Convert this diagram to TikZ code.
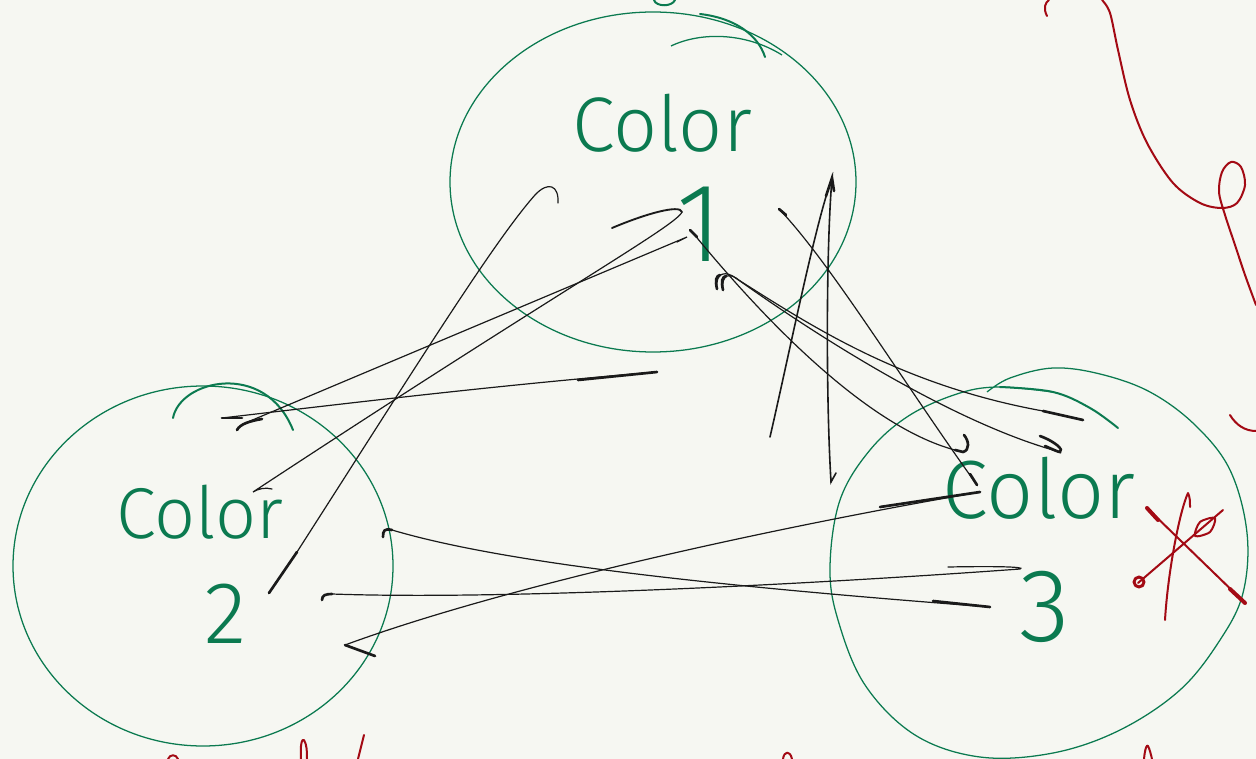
\documentclass[tikz,border=0pt]{standalone}
\usepackage{fontspec}
\newfontfamily\hand{Fira Sans Light}
\definecolor{bgc}{HTML}{F6F7F2}
\definecolor{grn}{HTML}{0B7A50}
\definecolor{redc}{HTML}{A30A14}
\definecolor{ink}{HTML}{1A1A1A}
\tikzset{
 ring/.style={draw=grn, line width=0.95pt},
 garc/.style={draw=grn, line width=1.5pt, line cap=round},
 conn/.style={draw=ink, line width=0.9pt, line cap=round},
 heavy/.style={draw=ink, line width=2pt, line cap=round},
 scrib/.style={draw=redc, line width=1.5pt, line cap=round, line join=round},
 lbl/.style={text=grn, inner sep=0pt, anchor=base},
}
\begin{document}
\begin{tikzpicture}[x=0.75pt,y=-0.75pt]
\fill[bgc] (0,0) rectangle (1256,759);
\useasboundingbox (0,0) rectangle (1256,759);

% ---- green circles ----
\draw[ring] (653,182) ellipse [x radius=203, y radius=170];
\draw[ring] (671,46) .. controls (700,32) and (745,32) .. (782,55);
\draw[garc] (700,14) .. controls (735,18) and (758,35) .. (765,57);
\draw[garc] (654,0) .. controls (656,7) and (672,7) .. (675,0);

\draw[ring] (203,566) ellipse [x radius=190, y radius=180];
\draw[garc] (173,418) .. controls (180,380) and (265,360) .. (293,430);

\draw[ring] plot[smooth, tension=0.6] coordinates {(987,392) (1010,378) (1053,368) (1100,374) (1150,392) (1195,425) (1230,470) (1247,533) (1243,593) (1220,640) (1180,690) (1120,730) (1053,753) (980,757) (915,735) (865,685) (838,620) (830,567) (840,500) (870,450) (910,415) (960,393) (1000,387) (1053,392)};
\draw[garc] plot[smooth, tension=0.6] coordinates {(1000,387) (1053,392) (1090,408) (1118,428)};

% ---- labels ----
\node[lbl, font=\hand\fontsize{58}{58}\selectfont] (t1) at (662,152) {Color};
\node[lbl, font=\hand\fontsize{84}{84}\selectfont] (n1) at (700,262) {1};
\node[lbl, font=\hand\fontsize{54}{54}\selectfont] (t2) at (200,538) {Color};
\node[lbl, font=\hand\fontsize{66}{66}\selectfont] (n2) at (226,643) {2};
\node[lbl, font=\hand\fontsize{62}{62}\selectfont] (t3) at (1039,518) {Color};
\node[lbl, font=\hand\fontsize{78}{78}\selectfont] (n3) at (1045,641) {3};

% ---- connector end points ----
\coordinate (k1a) at (558,203); \coordinate (k1b) at (297,552); \coordinate (k1c) at (269,593);
\coordinate (k2a) at (612,228); \coordinate (k2b) at (682,212); \coordinate (k2c) at (253,492); \coordinate (k2d) at (272,489);
\coordinate (k3t) at (677,242); \coordinate (k3a) at (687,237); \coordinate (k3b) at (243,424); \coordinate (k3c) at (237,430);
\coordinate (k4a) at (657,372); \coordinate (k4b) at (222,418);
\coordinate (k5a) at (770,437); \coordinate (k5t) at (832,178); \coordinate (k5b) at (831,482); \coordinate (k5c) at (836,473);
\coordinate (k6a) at (779,209); \coordinate (k6b) at (977,485);
\coordinate (c1a) at (717,289); \coordinate (c1b) at (1083,420);
\coordinate (c2a) at (723,290); \coordinate (c2t) at (1060,452); \coordinate (c2e) at (1040,436);
\coordinate (c3a) at (693,233); \coordinate (c3b) at (963,452); \coordinate (c3c) at (964,435);
\coordinate (l1a) at (383,537); \coordinate (l1b) at (392,530); \coordinate (l1c) at (990,607);
\coordinate (l2a) at (322,600); \coordinate (l2b) at (332,594); \coordinate (l2t) at (1020,569); \coordinate (l2e) at (948,567);
\coordinate (l3a) at (375,656); \coordinate (l3b) at (345,645); \coordinate (l3c) at (980,492);

% ---- black connectors ----
\draw[conn] (k1a) .. controls (559,185) and (548,181) .. (535,195) .. controls (495,240) and (420,360) .. (k1b);
\draw[heavy] (k1b) -- (k1c);

\draw[conn, line width=1.4pt] (k2a) .. controls (645,214) and (680,204) .. (k2b);
\draw[conn] (k2b) .. controls (676,226) and (560,290) .. (k2c) .. controls (258,489) and (265,487) .. (k2d);

\draw[conn] (k3t) -- (k3a) -- (k3b);
\draw[heavy] (k3c) .. controls (240,424) and (250,421) .. (262,419);

\draw[conn] (k4a) .. controls (500,385) and (350,403) .. (k4b);
\draw[heavy] (k4a) -- (578,380);
\draw[heavy] (k4b) -- (242,418);

\draw[conn, line width=1.2pt] (k5a) .. controls (790,350) and (815,225) .. (k5t) .. controls (826,250) and (826,400) .. (k5b) -- (k5c);
\draw[heavy] (826,196) -- (k5t) -- (834,191);

\draw[conn] (k6a) .. controls (830,262) and (905,385) .. (k6b);
\draw[heavy] (k6a) -- (786,215);
\draw[heavy] (970,474) -- (k6b);

\draw[conn] (c1a) .. controls (715,272) and (726,270) .. (737,279) .. controls (810,325) and (900,385) .. (1043,411);
\draw[heavy] (1043,411) -- (c1b);
\draw[heavy] (c1a) .. controls (715,280) and (716,276) .. (720,275);

\draw[conn] (c2a) .. controls (721,274) and (730,272) .. (740,281) .. controls (830,345) and (960,425) .. (c2t);
\draw[heavy] (1045,446) .. controls (1052,449) and (1058,452) .. (c2t) .. controls (1064,450) and (1056,442) .. (c2e);
\draw[heavy] (c2a) .. controls (721,281) and (722,277) .. (726,276);

\draw[conn] (c3a) .. controls (740,290) and (860,430) .. (c3b);
\draw[heavy] (955,450) -- (c3b) .. controls (970,450) and (969,441) .. (c3c);
\draw[heavy] (690,230) -- (697,237);

\draw[heavy] (l1a) .. controls (383,531) and (384,528) .. (l1b);
\draw[conn] (l1b) .. controls (500,562) and (700,585) .. (l1c);
\draw[heavy] (933,601) -- (l1c);

\draw[heavy] (l2a) .. controls (322,595) and (326,594) .. (l2b);
\draw[conn] (l2b) .. controls (500,600) and (800,585) .. (l2t) .. controls (1026,567) and (1000,566) .. (l2e);

\draw[heavy] (l3a) -- (l3b);
\draw[conn] (l3b) .. controls (500,588) and (760,530) .. (l3c);
\draw[heavy] (880,507) -- (l3c);

% ---- red scribbles ----
\draw[scrib] (1047,16) .. controls (1043,8) and (1045,3) .. (1049,0);
\draw[scrib] plot[smooth, tension=0.55] coordinates {(1102,0) (1110,13) (1118,50) (1130,100) (1147,143) (1173,183) (1200,203) (1222,208) (1237,203) (1245,185) (1241,167) (1231,162) (1222,172) (1219,192) (1225,215) (1235,245) (1245,275) (1256,305)};
\draw[scrib] (1230,415) .. controls (1236,425) and (1245,431) .. (1256,431);

\draw[scrib] (1147,508) -- (1245,603);
\draw[scrib, line width=3pt] (1147,508) -- (1158,520);
\draw[scrib, line width=3pt] (1230,589) -- (1245,603);
\draw[scrib] (1165,620) .. controls (1168,570) and (1180,510) .. (1188,493) .. controls (1190,497) and (1190,502) .. (1190,507);
\draw[scrib] (1138,583) -- (1223,510);
\draw[scrib] plot[smooth cycle] coordinates {(1215,518) (1210,532) (1195,536) (1200,522)};
\draw[scrib, line width=2.2pt] (1139,582) circle [radius=5];

\draw[scrib] (168,759) .. controls (170,754) and (176,754) .. (178,759);
\draw[scrib] (301,759) .. controls (300,745) and (302,738) .. (304,740) .. controls (307,745) and (307,752) .. (307,759);
\draw[scrib] (358,759) -- (364,735);
\draw[scrib] (783,759) .. controls (784,751) and (790,750) .. (792,759);
\draw[scrib] (1144,759) .. controls (1145,748) and (1147,744) .. (1148,746) .. controls (1150,750) and (1151,755) .. (1152,759);
\end{tikzpicture}
\end{document}
